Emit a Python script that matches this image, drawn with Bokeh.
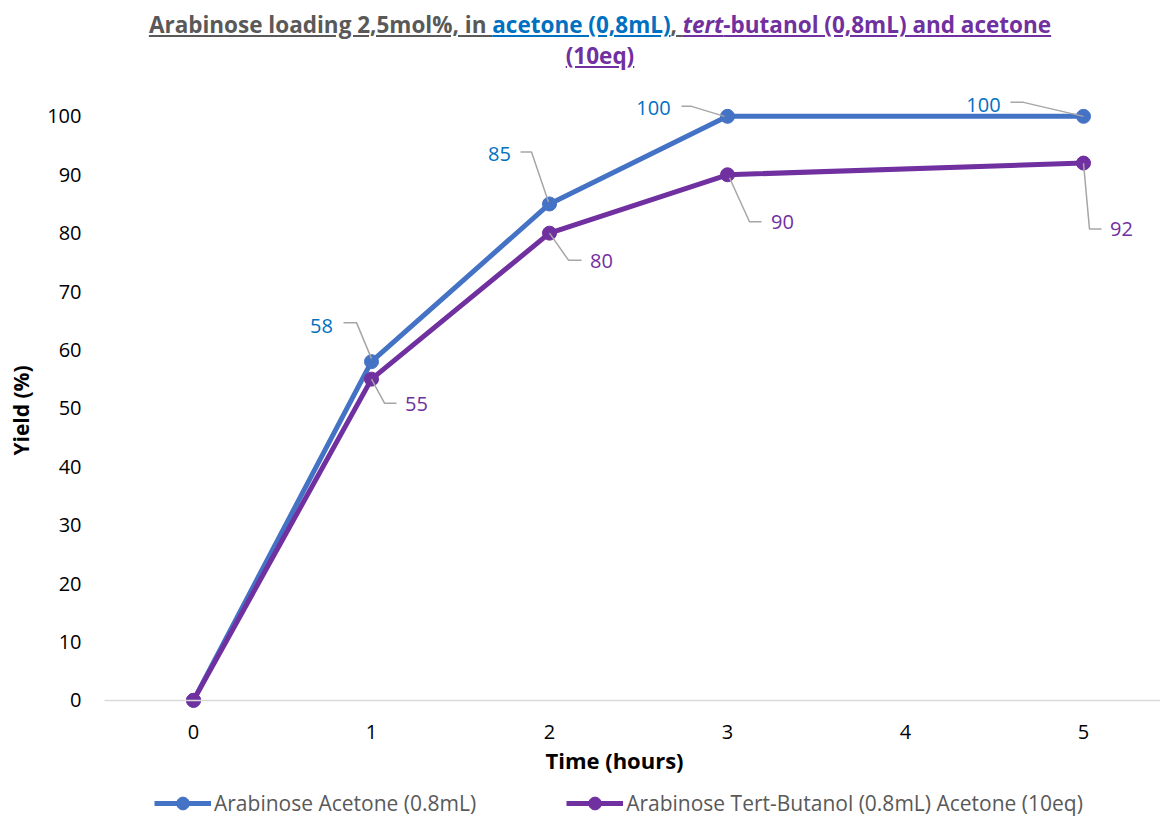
import math
from bokeh.plotting import figure
from bokeh.models import (Range1d, FixedTicker, Legend, LegendItem, Label, Div)
from bokeh.layouts import column
from bokeh.embed import file_html
from bokeh.resources import INLINE

# ---- data ----
time_hours = [0, 1, 2, 3, 5]
x_ticks = [0, 1, 2, 3, 4, 5]
yield_acetone = [0, 58, 85, 100, 100]
yield_tbuoh = [0, 55, 80, 90, 92]
series_names = ["Arabinose Acetone (0.8mL)", "Arabinose Tert-Butanol (0.8mL) Acetone (10eq)"]
y_ticks = [0, 10, 20, 30, 40, 50, 60, 70, 80, 90, 100]
x_title = "Time (hours)"
y_title = "Yield (%)"

# ---- styles ----
FONT = "Open Sans"
C_ACE_LINE = "#4472C4"
C_ACE_LAB = "#0070C0"
C_TBU = "#7030A0"
C_LEAD = "#A6A6A6"

W, H_FIG = 1160, 728
FRAME_W, FRAME_H = 1160, 720
PXU_X, PXU_Y = 178.0, 5.84
X_AXIS_START = -0.5
X0 = X_AXIS_START - 104 / PXU_X
X1 = X0 + FRAME_W / PXU_X
Y1 = 103.4
Y0 = Y1 - FRAME_H / PXU_Y

title_html = (
    '<div style="box-sizing:border-box;width:1160px;padding-left:40px;padding-top:9px;text-align:center;'
    'font-family:\'Open Sans\';font-weight:bold;font-size:22.5px;line-height:31px;color:#595959;">'
    '<span style="text-decoration:underline;">Arabinose loading 2,5mol%, in </span>'
    '<span style="text-decoration:underline;color:#0070C0;">acetone (0,8mL)</span>'
    '<span style="text-decoration:underline;">, </span>'
    '<span style="text-decoration:underline;color:#7030A0;"><i>tert</i>-butanol (0,8mL) and acetone</span><br>'
    '<span style="text-decoration:underline;color:#7030A0;">(10eq)</span>'
    '</div>'
)
title_div = Div(text=title_html, width=W, height=88, margin=(0, 0, 0, 0))

p = figure(width=W, height=H_FIG,
           x_range=Range1d(X0, X1), y_range=Range1d(Y0, Y1),
           output_backend="svg", toolbar_location=None,
           min_border_left=0, min_border_top=8, min_border_right=0, min_border_bottom=0,
           background_fill_color="white", border_fill_color="white")
p.outline_line_color = None
p.grid.visible = False

# axes (drawn inside the frame at fixed positions)
p.xaxis.ticker = FixedTicker(ticks=x_ticks)
p.yaxis.ticker = FixedTicker(ticks=y_ticks)
for ax in (p.xaxis[0], p.yaxis[0]):
    ax.axis_line_color = None
    ax.major_tick_line_color = None
    ax.minor_tick_line_color = None
    ax.major_tick_out = 0
    ax.major_tick_in = 0
    ax.major_label_text_font = FONT
    ax.major_label_text_font_size = "20px"
    ax.major_label_text_color = "#000000"
p.xaxis.fixed_location = 0
p.xaxis.bounds = (X_AXIS_START, X1)
p.xaxis.axis_line_color = "#D9D9D9"
p.xaxis.axis_line_width = 1.5
p.xaxis.major_label_standoff = 25
p.yaxis.fixed_location = X_AXIS_START
p.yaxis.major_label_standoff = 23

p.add_layout(Label(x=614, y=57, x_units="screen", y_units="screen", text=x_title,
                   text_align="center", text_baseline="middle", text_font=FONT,
                   text_font_style="bold", text_font_size="22px", text_color="#000000"))
p.add_layout(Label(x=20, y=406, x_units="screen", y_units="screen", text=y_title, angle=math.pi / 2,
                   text_align="center", text_baseline="middle", text_font=FONT,
                   text_font_style="bold", text_font_size="21px", text_color="#000000"))

# series
l1 = p.line(time_hours, yield_acetone, line_color=C_ACE_LINE, line_width=5)
s1 = p.scatter(time_hours, yield_acetone, marker="circle", size=14, fill_color=C_ACE_LINE, line_color=C_ACE_LINE)
l2 = p.line(time_hours, yield_tbuoh, line_color=C_TBU, line_width=5)
s2 = p.scatter(time_hours, yield_tbuoh, marker="circle", size=14, fill_color=C_TBU, line_color=C_TBU)

# data labels: text offset (px right, px down) and leader polyline offsets
ace_text_off = [None, (-50, -36), (-50, -50), (-74, -8), (-100, -11)]
ace_lead_off = [None,
                [(0, -3), (-15, -39), (-28, -39)],
                [(-1, -2), (-18, -52), (-29, -52)],
                [(-3, 0), (-36, -10), (-46, -10)],
                [(0, 0), (-60, -14), (-73, -14)]]
tbu_text_off = [None, (45, 25), (52, 28), (55, 47), (38, 66)]
tbu_lead_off = [None,
                [(0, 0), (13, 24), (25, 24)],
                [(0, 0), (19, 27), (32, 27)],
                [(2, 3), (22, 47), (34, 47)],
                [(0, 0), (6, 66), (18, 66)]]

def add_labels(xs, ys, text_off, lead_off, color):
    lx, ly = [], []
    for x, y, to, lo in zip(xs, ys, text_off, lead_off):
        if to is None:
            continue
        lx.append([x + dx / PXU_X for dx, dy in lo])
        ly.append([y - dy / PXU_Y for dx, dy in lo])
        p.add_layout(Label(x=x, y=y, x_offset=to[0], y_offset=-to[1], text=str(y),
                           text_align="center", text_baseline="middle",
                           text_font=FONT, text_font_size="20px", text_color=color))
    p.multi_line(lx, ly, line_color=C_LEAD, line_width=1.5)

add_labels(time_hours, yield_acetone, ace_text_off, ace_lead_off, C_ACE_LAB)
add_labels(time_hours, yield_tbuoh, tbu_text_off, tbu_lead_off, C_TBU)

legend = Legend(items=[LegendItem(label=series_names[0], renderers=[l1, s1]),
                       LegendItem(label=series_names[1], renderers=[l2, s2])],
                orientation="horizontal", location=(154, -3),
                glyph_width=57, glyph_height=32, label_standoff=3, spacing=90, padding=0, margin=0,
                label_text_font=FONT, label_text_font_size="21px", label_text_color="#595959",
                border_line_color=None, background_fill_alpha=0)
p.add_layout(legend, "center")

layout = column(title_div, p, spacing=0)
open("out.html", "w").write(file_html(layout, INLINE))
